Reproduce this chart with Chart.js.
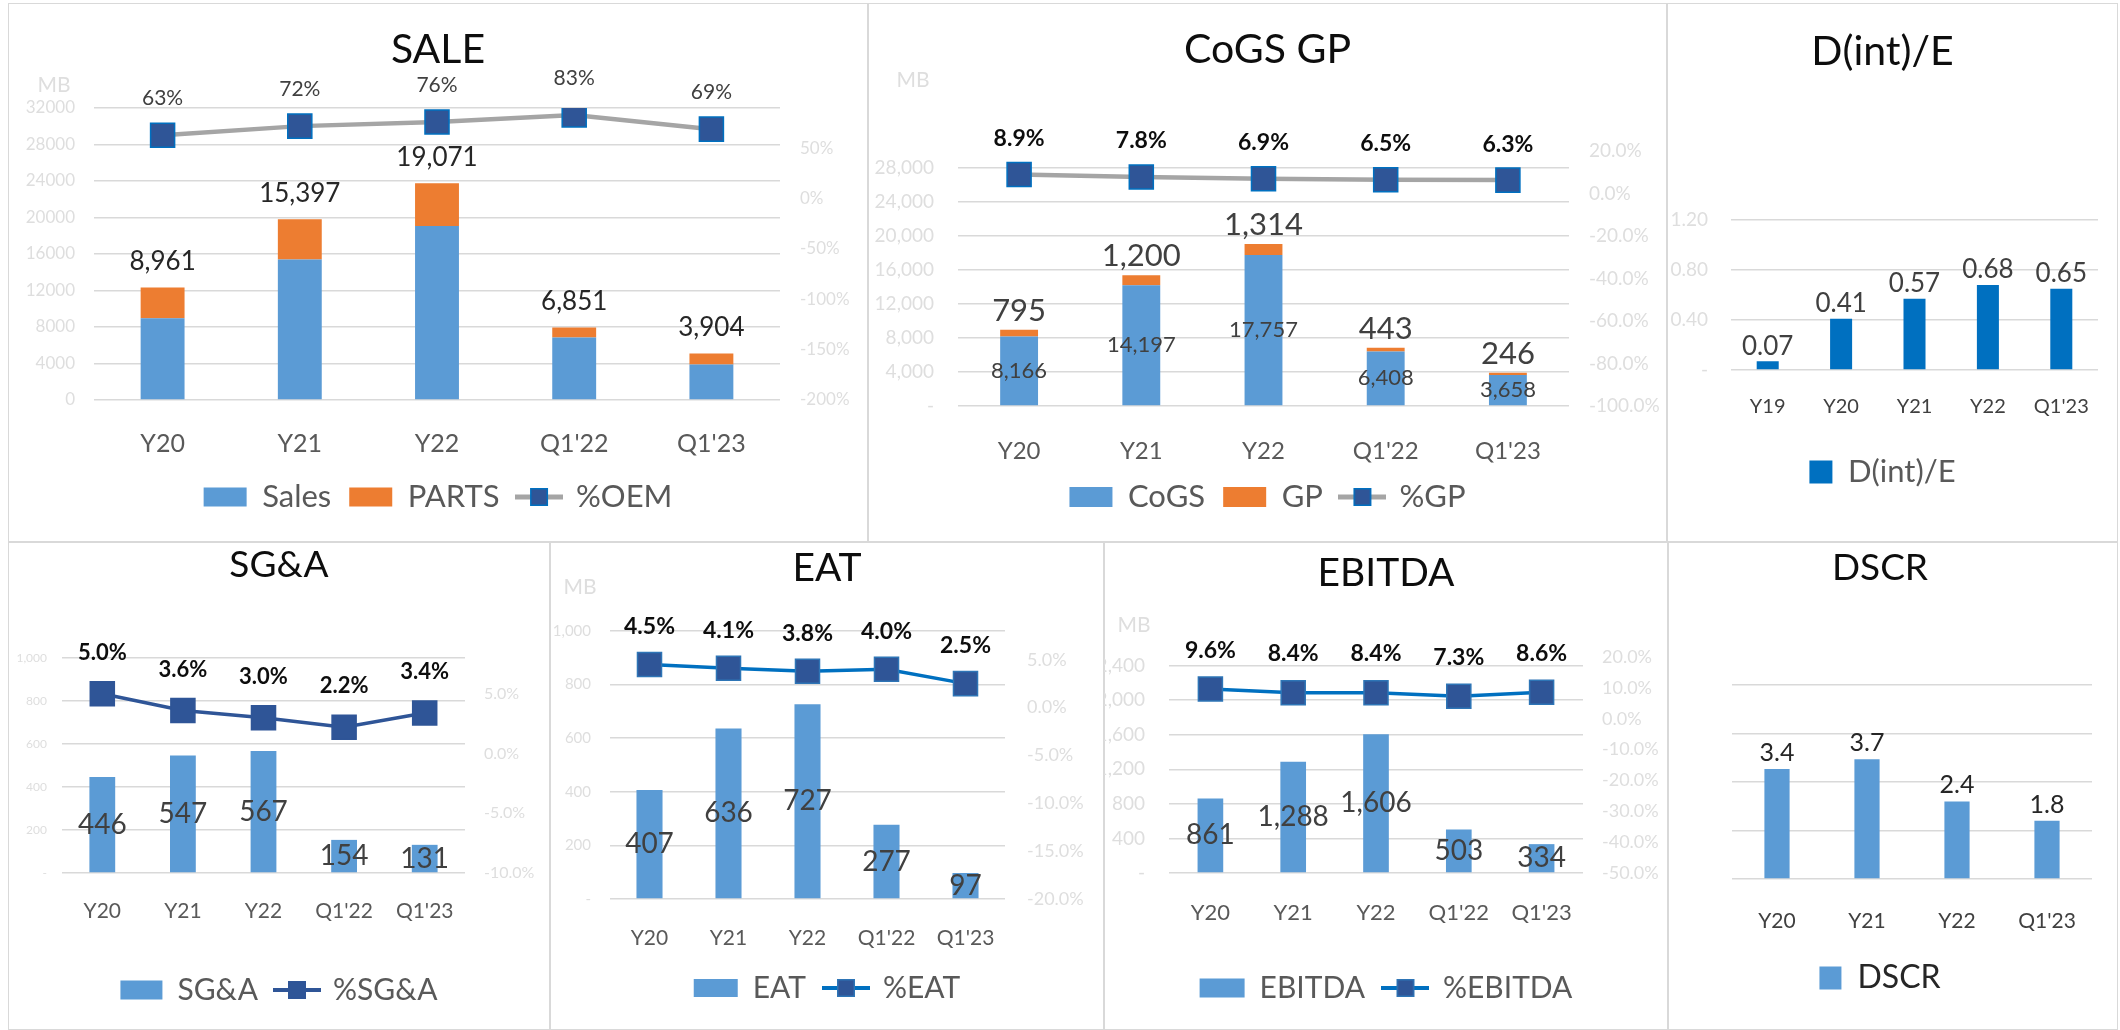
<!DOCTYPE html>
<html>
<head>
<meta charset="utf-8">
<script src="https://cdn.jsdelivr.net/npm/chart.js@4.4.1/dist/chart.umd.min.js"></script>
<style>
  html, body { margin: 0; padding: 0; background: #fff; }
  body { width: 2120px; height: 1030px; position: relative; overflow: hidden; }
  .panel { position: absolute; box-shadow: inset 0 0 0 1px #d9d9d9; overflow: hidden; }
  .panel canvas { position: absolute; left: 0; top: 0; }
</style>
</head>
<body>
<div class="panel" style="left:8px;top:3px;width:860px;height:539px"><canvas id="cSale" width="860" height="539"></canvas></div>
<div class="panel" style="left:868px;top:3px;width:799px;height:539px"><canvas id="cCogs" width="799" height="539"></canvas></div>
<div class="panel" style="left:1667px;top:3px;width:451px;height:539px"><canvas id="cDE" width="451" height="539"></canvas></div>
<div class="panel" style="left:8px;top:542px;width:542px;height:488px"><canvas id="cSga" width="542" height="488"></canvas></div>
<div class="panel" style="left:550px;top:542px;width:554px;height:488px"><canvas id="cEat" width="554" height="488"></canvas></div>
<div class="panel" style="left:1104px;top:542px;width:564px;height:488px"><canvas id="cEbitda" width="564" height="488"></canvas></div>
<div class="panel" style="left:1668px;top:542px;width:450px;height:488px"><canvas id="cDscr" width="450" height="488"></canvas></div>

<script>
// Datos
const cats = ['Y20', 'Y21', 'Y22', "Q1'22", "Q1'23"];
const catsDE = ['Y19', 'Y20', 'Y21', 'Y22', "Q1'23"];
const catsDSCR = ['Y20', 'Y21', 'Y22', "Q1'23"];

const sales = [8961, 15397, 19071, 6851, 3904];
const parts = [3370, 4400, 4680, 1100, 1190];
const pctOEM = [63, 72, 76, 83, 69];

const cogs = [8166, 14197, 17757, 6408, 3658];
const gp = [795, 1200, 1314, 443, 246];
const pctGP = [8.9, 7.8, 6.9, 6.5, 6.3];

const debtEquity = [0.07, 0.41, 0.57, 0.68, 0.65];

const sga = [446, 547, 567, 154, 131];
const pctSGA = [5.0, 3.6, 3.0, 2.2, 3.4];

const eat = [407, 636, 727, 277, 97];
const pctEAT = [4.5, 4.1, 3.8, 4.0, 2.5];

const ebitda = [861, 1288, 1606, 503, 334];
const pctEBITDA = [9.6, 8.4, 8.4, 7.3, 8.6];

const dscr = [3.4, 3.7, 2.4, 1.8];

// Colores
const BLUE = '#5B9BD5', ORANGE = '#ED7D31', GRAY = '#A5A5A5', NAVY = '#2F5597', STRONG = '#0070C0';
const FONT = "Lato, 'Open Sans', sans-serif";
const FAINT = '#DEDEDE';

Chart.defaults.font.family = FONT;
Chart.defaults.animation = false;

// Formatos
const fmtComma = v => v.toLocaleString('en-US');
const fmtDash = v => v === 0 ? '-' : v.toLocaleString('en-US');
const fmtPct1 = v => v.toFixed(1) + '%';

// Tope de la pila de barras en un indice
function stackTop(chart, i) {
    let top = Infinity;
    chart.data.datasets.forEach((d, j) => {
        const m = chart.getDatasetMeta(j);
        if (m.type === 'bar' && m.data[i]) top = Math.min(top, m.data[i].y);
    });
    return top;
}

// Plugin para las etiquetas de valores
const valueLabels = {
    id: 'valueLabels',
    afterDatasetsDraw(chart) {
        const ctx = chart.ctx;
        chart.data.datasets.forEach((ds, di) => {
            const o = ds.lbl;
            if (!o) return;
            const meta = chart.getDatasetMeta(di);
            ctx.save();
            ctx.font = (o.bold ? 'bold ' : '') + o.size + 'px ' + FONT;
            ctx.fillStyle = o.color;
            ctx.textAlign = 'center';
            ctx.textBaseline = 'middle';
            meta.data.forEach((el, i) => {
                let y = el.y - (o.off || 0);
                if (o.pos === 'center') y = (el.y + el.base) / 2;
                if (o.pos === 'stackTop') y = stackTop(chart, i) - o.off;
                ctx.fillText(o.fmt(ds.data[i]), el.x, y);
            });
            ctx.restore();
        });
    }
};

// Plugin para el texto "MB"
const unitLabel = {
    id: 'unitLabel',
    afterDraw(chart, args, o) {
        if (!o || !o.text) return;
        const ctx = chart.ctx;
        ctx.save();
        ctx.font = o.size + 'px ' + FONT;
        ctx.fillStyle = FAINT;
        ctx.textAlign = 'center';
        ctx.textBaseline = 'middle';
        ctx.fillText(o.text, o.x, o.y);
        ctx.restore();
    }
};

Chart.register(valueLabels, unitLabel);

// Icono de linea con marcador para la leyenda
function lineIcon(lineColor, border, width) {
    const c = document.createElement('canvas');
    c.width = 48; c.height = 22;
    const g = c.getContext('2d');
    g.strokeStyle = lineColor; g.lineWidth = width + 0.5;
    g.beginPath(); g.moveTo(0, 11); g.lineTo(48, 11); g.stroke();
    g.fillStyle = NAVY; g.fillRect(15, 2, 18, 18);
    g.strokeStyle = border; g.lineWidth = 1.5; g.strokeRect(15.75, 2.75, 16.5, 16.5);
    return c;
}

function bar(label, data, color, ratio, lbl) {
    return {
        type: 'bar', label, data, backgroundColor: color, yAxisID: 'y', order: 2,
        barPercentage: ratio, categoryPercentage: 1, lbl
    };
}

function line(label, data, lineColor, border, width, lbl) {
    return {
        type: 'line', label, data, borderColor: lineColor, borderWidth: width, yAxisID: 'y2', order: 1,
        pointStyle: 'rect', pointRadius: 17, pointHoverRadius: 17, pointBackgroundColor: NAVY,
        pointBorderColor: border, pointBorderWidth: 1.5, tension: 0, lbl,
        legendIcon: lineIcon(lineColor, border, width)
    };
}

function legendItems(chart) {
    return chart.data.datasets.map((ds, i) => ({
        text: ds.label,
        fillStyle: ds.backgroundColor,
        strokeStyle: ds.backgroundColor,
        lineWidth: 0,
        pointStyle: ds.type === 'line' ? ds.legendIcon : 'rect',
        datasetIndex: i,
        hidden: false,
        fontColor: chart.options.plugins.legend.labels.color
    }));
}

function axis(o, pos, width, grid) {
    return {
        position: pos, min: o.min, max: o.max, stacked: !!o.stacked,
        grid: { display: grid, color: '#D9D9D9', lineWidth: 1.5, drawTicks: false },
        border: { display: false },
        ticks: {
            display: !o.hidden, stepSize: o.step, color: FAINT,
            font: { size: o.size }, padding: o.pad, callback: o.fmt
        },
        // marcas cada "step" desde el minimo, sin la del maximo si no cae en el paso
        afterBuildTicks: s => {
            const t = [];
            for (let k = 0; o.min + k * o.step <= o.max + 1e-9; k++) {
                t.push({ value: +(o.min + k * o.step).toFixed(6) });
            }
            s.ticks = t;
        },
        afterFit: s => { s.width = width; }
    };
}

function makeChart(id, g, labels, datasets, yL, yR) {
    const a = g.area;
    const lp = g.legendPad;
    const legTop = g.legendY - lp - g.legendSize / 2;
    const legH = g.legendSize + lp + 10;
    const scales = {
        x: {
            stacked: !!yL.stacked,
            grid: { display: false },
            border: { display: false },
            ticks: {
                color: g.xColor || '#595959', font: { size: g.xSize }, maxRotation: 0, autoSkip: false,
                padding: g.xLabelY - a.b - 0.6 * g.xSize
            },
            afterFit: s => { s.height = legTop - a.b; }
        },
        y: axis(yL, 'left', a.l, true)
    };
    if (yR) scales.y2 = axis(yR, 'right', g.w - a.r, false);

    return new Chart(document.getElementById(id), {
        type: 'bar',
        data: { labels, datasets },
        options: {
            responsive: false,
            animation: false,
            layout: { padding: { left: 0, top: 0, right: yR ? 0 : g.w - a.r, bottom: g.h - legTop - legH } },
            scales,
            plugins: {
                title: {
                    display: true, text: g.title, color: '#0D0D0D',
                    font: { size: g.titleSize, weight: 'normal' },
                    padding: { top: g.titleY - 0.6 * g.titleSize, bottom: a.t - g.titleY - 0.6 * g.titleSize }
                },
                legend: {
                    position: 'bottom',
                    labels: {
                        color: g.legendColor || '#595959', font: { size: g.legendSize }, padding: lp,
                        usePointStyle: true, pointStyleWidth: g.boxW, boxHeight: g.boxH,
                        generateLabels: legendItems
                    }
                },
                tooltip: { enabled: false },
                unitLabel: g.unit || {}
            }
        }
    });
}

// SALE
makeChart('cSale', {
    w: 860, h: 539, area: { l: 86, t: 105, r: 772, b: 397 },
    title: 'SALE', titleSize: 41, titleY: 47, xSize: 25, xLabelY: 433,
    legendY: 494, legendSize: 31, legendPad: 18, boxW: 43, boxH: 19,
    unit: { text: 'MB', x: 46, y: 82, size: 21 }
}, cats, [
    bar('Sales', sales, BLUE, 0.32, { pos: 'stackTop', off: 26, size: 26, color: '#262626', fmt: fmtComma }),
    bar('PARTS', parts, ORANGE, 0.32, null),
    line('%OEM', pctOEM, GRAY, STRONG, 4.5, { pos: 'above', off: 37, size: 21, color: '#404040', fmt: v => v + '%' })
], { min: 0, max: 32000, step: 4000, size: 17, pad: 19, stacked: true, fmt: v => String(v) },
   { min: -200, max: 90, step: 50, size: 17, pad: 20, fmt: v => v + '%' });

// CoGS GP
makeChart('cCogs', {
    w: 799, h: 539, area: { l: 90, t: 148, r: 701, b: 403 },
    title: 'CoGS GP', titleSize: 41, titleY: 47, xSize: 24, xLabelY: 440,
    legendY: 494, legendSize: 31, legendPad: 18, boxW: 43, boxH: 20,
    unit: { text: 'MB', x: 45, y: 77, size: 21 }
}, cats, [
    bar('CoGS', cogs, BLUE, 0.31, { pos: 'center', size: 22, color: '#404040', fmt: fmtComma }),
    bar('GP', gp, ORANGE, 0.31, { pos: 'stackTop', off: 19, size: 31, color: '#404040', fmt: fmtComma }),
    line('%GP', pctGP, GRAY, STRONG, 4.5, { pos: 'above', off: 36, size: 23, bold: true, color: '#0D0D0D', fmt: fmtPct1 })
], { min: 0, max: 30000, step: 4000, size: 19, pad: 24, stacked: true, fmt: fmtDash },
   { min: -100, max: 20, step: 20, size: 19, pad: 20, fmt: fmtPct1 });

// D(int)/E
makeChart('cDE', {
    w: 451, h: 539, area: { l: 64, t: 217, r: 431, b: 367 },
    title: 'D(int)/E', titleSize: 41, titleY: 49, xSize: 20, xLabelY: 396, xColor: '#404040',
    legendY: 469, legendSize: 31, legendPad: 10, boxW: 23, boxH: 23
}, catsDE, [
    bar('D(int)/E', debtEquity, STRONG, 0.30, { pos: 'above', off: 15, size: 26, color: '#404040', fmt: v => v.toFixed(2) })
], { min: 0, max: 1.2, step: 0.4, size: 19, pad: 23, fmt: v => v === 0 ? '-' : v.toFixed(2) }, null);

// SG&A
makeChart('cSga', {
    w: 542, h: 488, area: { l: 54, t: 116, r: 457, b: 331 },
    title: 'SG&A', titleSize: 37, titleY: 23, xSize: 21, xLabelY: 361,
    legendY: 448, legendSize: 30, legendPad: 18, boxW: 42, boxH: 19
}, cats, [
    bar('SG&A', sga, BLUE, 0.32, { pos: 'center', size: 28, color: '#404040', fmt: fmtComma }),
    line('%SG&A', pctSGA, NAVY, NAVY, 3.5, { pos: 'above', off: 41, size: 22, bold: true, color: '#0D0D0D', fmt: fmtPct1 })
], { min: 0, max: 1000, step: 200, size: 12, pad: 15, fmt: fmtDash },
   { min: -10, max: 8, step: 5, size: 16, pad: 19, fmt: fmtPct1 });

// EAT
makeChart('cEat', {
    w: 554, h: 488, area: { l: 60, t: 89, r: 455, b: 357 },
    title: 'EAT', titleSize: 39, titleY: 26, xSize: 21, xLabelY: 388,
    legendY: 446, legendSize: 30, legendPad: 18, boxW: 44, boxH: 18,
    unit: { text: 'MB', x: 30, y: 45, size: 21 }
}, cats, [
    bar('EAT', eat, BLUE, 0.33, { pos: 'center', size: 28, color: '#404040', fmt: fmtComma }),
    line('%EAT', pctEAT, STRONG, '#2E75B6', 3.5, { pos: 'above', off: 38, size: 23, bold: true, color: '#0D0D0D', fmt: fmtPct1 })
], { min: 0, max: 1000, step: 200, size: 15, pad: 19, fmt: fmtDash },
   { min: -20, max: 8, step: 5, size: 18, pad: 22, fmt: fmtPct1 });

// EBITDA
makeChart('cEbitda', {
    w: 564, h: 488, area: { l: 65, t: 115, r: 479, b: 331 },
    title: 'EBITDA', titleSize: 39, titleY: 31, xSize: 22, xLabelY: 363,
    legendY: 446, legendSize: 30, legendPad: 18, boxW: 45, boxH: 19,
    unit: { text: 'MB', x: 30, y: 83, size: 21 }
}, cats, [
    bar('EBITDA', ebitda, BLUE, 0.31, { pos: 'center', size: 28, color: '#404040', fmt: fmtComma }),
    line('%EBITDA', pctEBITDA, STRONG, '#2E75B6', 3.5, { pos: 'above', off: 39, size: 23, bold: true, color: '#0D0D0D', fmt: fmtPct1 })
], { min: 0, max: 2500, step: 400, size: 19, pad: 24, fmt: fmtDash },
   { min: -50, max: 20, step: 10, size: 18, pad: 19, fmt: fmtPct1 });

// DSCR
makeChart('cDscr', {
    w: 450, h: 488, area: { l: 64, t: 143, r: 424, b: 337 },
    title: 'DSCR', titleSize: 37, titleY: 26, xSize: 21, xLabelY: 371, xColor: '#404040',
    legendY: 436, legendSize: 32, legendPad: 10, boxW: 22, boxH: 23, legendColor: '#262626'
}, catsDSCR, [
    bar('DSCR', dscr, BLUE, 0.28, { pos: 'above', off: 16, size: 25, color: '#262626', fmt: v => v.toFixed(1) })
], { min: 0, max: 6, step: 1.5, hidden: true, size: 16, pad: 10 }, null);
</script>
</body>
</html>
